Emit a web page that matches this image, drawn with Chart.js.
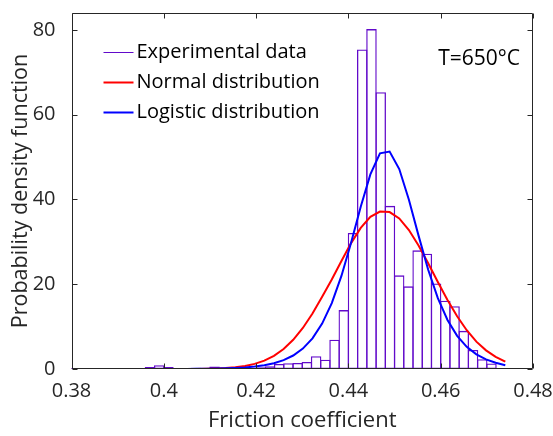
<!DOCTYPE html>
<html>
<head>
<meta charset="utf-8">
<script src="https://cdn.jsdelivr.net/npm/chart.js@4.4.1/dist/chart.umd.min.js"></script>
<style>
  html, body { margin: 0; padding: 0; background: #fff; }
  #chart { display: block; }
</style>
</head>
<body>
<canvas id="chart" width="553" height="436"></canvas>
<script>
// Histogram bins (centres, width 0.002) and densities
const binCenters = [
  0.381, 0.383, 0.385, 0.387, 0.389, 0.391, 0.393, 0.395, 0.397, 0.399,
  0.401, 0.403, 0.405, 0.407, 0.409, 0.411, 0.413, 0.415, 0.417, 0.419,
  0.421, 0.423, 0.425, 0.427, 0.429, 0.431, 0.433, 0.435, 0.437, 0.439,
  0.441, 0.443, 0.445, 0.447, 0.449, 0.451, 0.453, 0.455, 0.457, 0.459,
  0.461, 0.463, 0.465, 0.467, 0.469, 0.471, 0.473
];
const binDensity = [
  0.1, 0.1, 0.1, 0.1, 0.2, 0.1, 0.1, 0.1, 0.5, 0.9,
  0.5, 0.1, 0.1, 0.3, 0.1, 0.6, 0.1, 0.1, 0.1, 0.2,
  0.4, 0.65, 1.2, 1.35, 1.4, 1.65, 3.0, 2.2, 6.9, 13.9,
  32.1, 75.4, 80.2, 65.3, 38.5, 22.1, 19.5, 28.0, 27.2, 20.2,
  16.1, 14.8, 9.0, 4.5, 2.3, 1.3, 0.0
];

// Fitted curves, sampled where the plotted polylines have their vertices
const fitX = [
  0.38000, 0.38209, 0.38418, 0.38627, 0.38836, 0.39044, 0.39253, 0.39462, 0.39671, 0.39880,
  0.40089, 0.40298, 0.40507, 0.40716, 0.40924, 0.41133, 0.41342, 0.41551, 0.41760, 0.41969,
  0.42178, 0.42387, 0.42596, 0.42804, 0.43013, 0.43222, 0.43431, 0.43640, 0.43849, 0.44058,
  0.44267, 0.44476, 0.44684, 0.44893, 0.45102, 0.45311, 0.45520, 0.45729, 0.45938, 0.46147,
  0.46356, 0.46564, 0.46773, 0.46982, 0.47191, 0.47400
];
const normalY = [
  0, 0, 0, 0, 0, 0, 0, 0, 0, 0,
  0.002, 0.006, 0.013, 0.028, 0.06, 0.12, 0.22, 0.40, 0.71, 1.21,
  1.98, 3.12, 4.73, 6.89, 9.69, 13.09, 17.04, 21.1, 25.5, 29.7,
  33.3, 35.9, 37.16, 37.03, 35.53, 32.80, 29.16, 24.95, 20.54, 16.29,
  12.43, 9.14, 6.46, 4.40, 2.88, 1.75
];
const logisticY = [
  0, 0, 0, 0, 0.001, 0.001, 0.002, 0.003, 0.005, 0.008,
  0.012, 0.019, 0.029, 0.044, 0.068, 0.104, 0.160, 0.246, 0.379, 0.583,
  0.894, 1.37, 2.09, 3.18, 4.82, 7.23, 10.71, 15.55, 21.96, 29.77,
  38.27, 45.93, 50.9, 51.3, 47.18, 39.94, 31.47, 23.41, 16.71, 11.56,
  7.83, 5.24, 3.47, 2.28, 1.49, 0.9
];

const xTicks = [0.38, 0.40, 0.42, 0.44, 0.46, 0.48];
const yTicks = [0, 20, 40, 60, 80];

const legendLabels = ['Experimental data', 'Normal distribution', 'Logistic distribution'];
const tempLabel = 'T=650\u00b0C';

const FONT = '"Open Sans", Lato, "DejaVu Sans", sans-serif';
const TEXT = '#262626';
const PURPLE = 'rgb(98, 10, 202)';

function pairs(xs, ys) {
  return xs.map((x, i) => ({ x: x, y: ys[i] }));
}

// box, inward ticks, legend and annotation
const framePlugin = {
  id: 'frame',
  afterDraw(chart) {
    const ctx = chart.ctx;
    const a = chart.chartArea;
    const xs = chart.scales.x, ys = chart.scales.y;
    const L = Math.round(a.left) + 0.5, R = Math.round(a.right) - 0.5;
    const T = Math.round(a.top) + 0.5, B = Math.round(a.bottom) - 0.5;
    const tl = 5;

    ctx.save();
    ctx.strokeStyle = TEXT;
    ctx.lineWidth = 1;
    ctx.beginPath();
    ctx.rect(L, T, R - L, B - T);
    xTicks.forEach(v => {
      const px = Math.round(xs.getPixelForValue(v)) + 0.5;
      ctx.moveTo(px, B); ctx.lineTo(px, B - tl);
      ctx.moveTo(px, T); ctx.lineTo(px, T + tl);
    });
    yTicks.forEach(v => {
      const py = Math.round(ys.getPixelForValue(v)) + 0.5;
      ctx.moveTo(L, py); ctx.lineTo(L + tl, py);
      ctx.moveTo(R, py); ctx.lineTo(R - tl, py);
    });
    ctx.stroke();

    // legend
    ctx.font = '20px ' + FONT;
    ctx.textAlign = 'left';
    ctx.textBaseline = 'middle';
    chart.data.datasets.forEach((ds, i) => {
      const y = a.top + 39.5 + i * 30;
      const x0 = a.left + 32;
      ctx.strokeStyle = ds.borderColor;
      ctx.lineWidth = i === 0 ? 1 : 2;
      ctx.beginPath();
      ctx.moveTo(x0, y); ctx.lineTo(x0 + 30, y);
      ctx.stroke();
      ctx.fillStyle = '#000';
      ctx.fillText(legendLabels[i], x0 + 33, y);
    });

    ctx.font = '21px ' + FONT;
    ctx.textAlign = 'right';
    ctx.fillStyle = '#000';
    ctx.fillText(tempLabel, a.right - 13, a.top + 46);
    ctx.restore();
  }
};

new Chart(document.getElementById('chart'), {
  type: 'bar',
  data: {
    datasets: [{
      type: 'bar',
      label: legendLabels[0],
      data: pairs(binCenters, binDensity),
      backgroundColor: 'rgba(255,255,255,0)',
      borderColor: PURPLE,
      borderWidth: 1.3,
      borderSkipped: false,
      barPercentage: 1.14,
      categoryPercentage: 1,
      order: 2
    }, {
      type: 'line',
      label: legendLabels[1],
      data: pairs(fitX, normalY),
      borderColor: 'rgb(255, 0, 0)',
      borderWidth: 2,
      pointRadius: 0,
      tension: 0,
      fill: false,
      order: 1
    }, {
      type: 'line',
      label: legendLabels[2],
      data: pairs(fitX, logisticY),
      borderColor: 'rgb(0, 0, 255)',
      borderWidth: 2,
      pointRadius: 0,
      tension: 0,
      fill: false,
      order: 0
    }]
  },
  options: {
    responsive: false,
    animation: false,
    devicePixelRatio: 1,
    layout: { padding: { left: 0, right: 20, top: 13, bottom: 0 } },
    plugins: {
      legend: { display: false },
      tooltip: { enabled: false }
    },
    scales: {
      x: {
        type: 'linear',
        offset: false,
        min: 0.38,
        max: 0.48,
        grid: { display: false, offset: false },
        border: { display: false },
        afterBuildTicks: s => { s.ticks = xTicks.map(v => ({ value: v })); },
        afterFit: s => { s.height = 67; s.paddingLeft = 0; s.paddingRight = 0; },
        ticks: {
          autoSkip: false,
          maxRotation: 0,
          padding: 2,
          color: TEXT,
          font: { family: FONT, size: 20 },
          callback: v => String(Number(v.toFixed(2)))
        },
        title: {
          display: true,
          text: 'Friction coefficient',
          color: TEXT,
          font: { family: FONT, size: 22 },
          padding: { top: 0, bottom: 2 }
        }
      },
      y: {
        min: 0,
        max: 84,
        grid: { display: false },
        border: { display: false },
        afterBuildTicks: s => { s.ticks = yTicks.map(v => ({ value: v })); },
        afterFit: s => { s.width = 71.5; s.paddingTop = 0; s.paddingBottom = 0; },
        ticks: {
          padding: 8,
          color: TEXT,
          font: { family: FONT, size: 20 }
        },
        title: {
          display: true,
          text: 'Probability density function',
          color: TEXT,
          font: { family: FONT, size: 21.5 },
          padding: { top: 8, bottom: 0 }
        }
      }
    }
  },
  plugins: [framePlugin]
});
</script>
</body>
</html>
